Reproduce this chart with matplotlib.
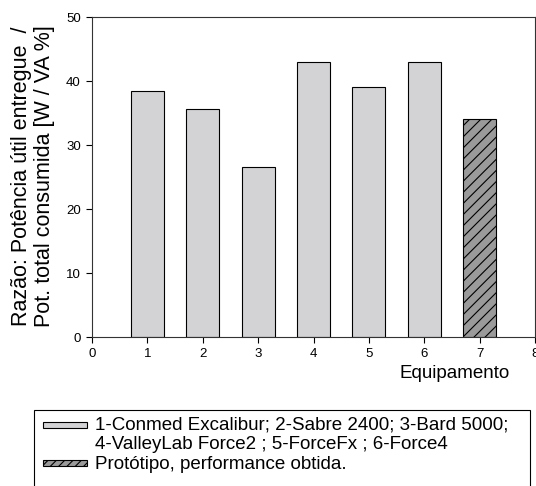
import matplotlib
matplotlib.use('Agg')
import matplotlib.pyplot as plt
from matplotlib.patches import Rectangle

plt.rcParams['font.family'] = ['Liberation Sans', 'DejaVu Sans']
plt.rcParams['hatch.linewidth'] = 0.8

equip = [1, 2, 3, 4, 5, 6]
razao = [38.4, 35.7, 26.5, 42.9, 39.0, 42.9]
proto_x = [7]
proto_val = [34.0]
xticks = [0, 1, 2, 3, 4, 5, 6, 7, 8]
yticks = [0, 10, 20, 30, 40, 50]
leg_lines = ['1-Conmed Excalibur; 2-Sabre 2400; 3-Bard 5000;',
             '4-ValleyLab Force2 ; 5-ForceFx ; 6-Force4',
             'Protótipo, performance obtida.']

W, H = 536, 486
fig = plt.figure(figsize=(W/100, H/100), dpi=100)
ax = fig.add_axes([92/W, 1-337/H, (535-92)/W, (337-17)/H])

ax.bar(equip, razao, width=0.6, color='#d3d3d5', edgecolor='black', linewidth=0.8)
ax.bar(proto_x, proto_val, width=0.6, color='#9a9a9a', edgecolor='black', linewidth=0.8, hatch='///')

ax.set_xlim(0, 8)
ax.set_ylim(0, 50)
ax.set_xticks(xticks)
ax.set_yticks(yticks)
ax.tick_params(direction='out', length=4, width=0.8, labelsize=9.5, pad=4)
for s in ax.spines.values():
    s.set_linewidth(0.8)
    s.set_color('#333333')

fig.text(33/W, 1-176/H, 'Razão: Potência útil entregue  /\nPot. total consumida [W / VA %]',
         fontsize=15.5, rotation=90, ha='center', va='center', linespacing=1.1)
fig.text(455/W, 1-373/H, 'Equipamento', fontsize=13.5, ha='center', va='center')

# legend drawn by hand: frame runs past the bottom edge as in the original
px = lambda x, y: (x/W, 1-y/H)
fig.patches.append(Rectangle(px(34, 520), (530-34)/W, (520-410)/H, transform=fig.transFigure,
                             facecolor='white', edgecolor='black', linewidth=0.8, zorder=0))
fig.patches.append(Rectangle(px(43, 428), 44/W, 6/H, transform=fig.transFigure,
                             facecolor='#d3d3d5', edgecolor='black', linewidth=0.8))
fig.patches.append(Rectangle(px(43, 466), 44/W, 6/H, transform=fig.transFigure,
                             facecolor='#9a9a9a', edgecolor='black', linewidth=0.8, hatch='////'))
for i, s in enumerate(leg_lines):
    fig.text(*px(95, 425 + 19.5*i), s, fontsize=13.5, ha='left', va='center')

fig.savefig('out.png', dpi=100)
